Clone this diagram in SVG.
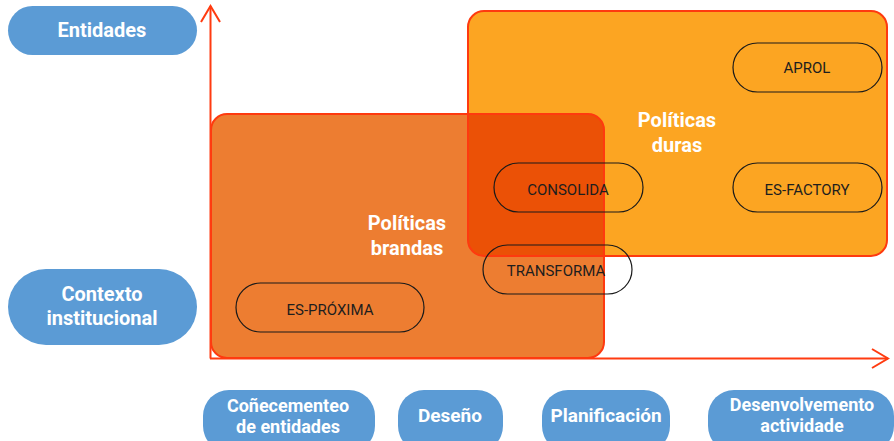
<svg xmlns="http://www.w3.org/2000/svg" width="894" height="441" viewBox="0 0 894 441">
  <style>
    .pill { fill: #5b9bd5; }
    .lbl { font-family: Roboto, "Liberation Sans", sans-serif; font-weight: bold; font-size: 19px; fill: #ffffff; text-anchor: middle; }
    .lbl2 { font-family: Roboto, "Liberation Sans", sans-serif; font-weight: bold; font-size: 18px; fill: #ffffff; text-anchor: middle; }
    .big { font-family: Roboto, "Liberation Sans", sans-serif; font-weight: bold; font-size: 20px; fill: #ffffff; text-anchor: middle; }
    .node { fill: none; stroke: #1a1a1a; stroke-width: 1.2; }
    .ntxt { font-family: Roboto, "Liberation Sans", sans-serif; font-size: 15px; fill: #1e1e1e; text-anchor: middle; }
    .edge { stroke: #fe3a0f; stroke-width: 2; fill: none; }
    .axis { stroke: #ff3b10; stroke-width: 2; fill: none; }
  </style>
  <defs>
    <clipPath id="clipDuras">
      <rect x="468" y="11" width="419" height="245" rx="16"/>
    </clipPath>
  </defs>
  <rect width="894" height="441" fill="#ffffff"/>

  <g id="duras">
    <rect x="468" y="11" width="419" height="245" rx="16" fill="#fca522"/>
  </g>
  <g id="brandas">
    <rect x="211" y="114" width="393" height="244" rx="16" fill="#ed7d31"/>
    <rect x="211" y="114" width="393" height="244" rx="16" fill="#eb5106" clip-path="url(#clipDuras)"/>
    <rect x="211" y="114" width="393" height="244" rx="16" class="edge"/>
    <rect x="468" y="11" width="419" height="245" rx="16" class="edge"/>
    <text class="big" x="407" y="230">Políticas</text>
    <text class="big" x="407" y="255">brandas</text>
  </g>
  <g id="duras-label">
    <text class="big" x="677" y="127">Políticas</text>
    <text class="big" x="677" y="152">duras</text>
  </g>

  <g id="connectors">
    <line class="axis" x1="210.5" y1="6" x2="210.5" y2="358.5"/>
    <polyline class="axis" points="201,22 210.5,6 220,22"/>
    <line class="axis" x1="210" y1="358.5" x2="888" y2="358.5"/>
    <polyline class="axis" points="872,349 888,358.5 872,368"/>
  </g>

  <g id="aprol">
    <rect class="node" x="733" y="43" width="149" height="49" rx="24.5"/>
    <text class="ntxt" x="807" y="73">APROL</text>
  </g>
  <g id="consolida">
    <rect class="node" x="494" y="163" width="149" height="49" rx="24.5"/>
    <text class="ntxt" x="568" y="195">CONSOLIDA</text>
  </g>
  <g id="es-factory">
    <rect class="node" x="733" y="163" width="149" height="49" rx="24.5"/>
    <text class="ntxt" x="807" y="195">ES-FACTORY</text>
  </g>
  <g id="transforma">
    <rect class="node" x="483" y="245" width="149" height="49" rx="24.5"/>
    <text class="ntxt" x="556" y="276">TRANSFORMA</text>
  </g>
  <g id="es-proxima">
    <rect class="node" x="236" y="283" width="188" height="49" rx="24.5"/>
    <text class="ntxt" x="330" y="315">ES-PRÓXIMA</text>
  </g>

  <g id="entidades">
    <rect class="pill" x="8" y="6" width="189" height="49" rx="24.5"/>
    <text class="big" x="102" y="37">Entidades</text>
  </g>
  <g id="contexto">
    <rect class="pill" x="8" y="269" width="189" height="76" rx="38"/>
    <text class="big" x="102" y="301">Contexto</text>
    <text class="big" x="102" y="325">institucional</text>
  </g>

  <g id="conecemento">
    <rect class="pill" x="203" y="390" width="172" height="62" rx="26"/>
    <text class="lbl2" x="288" y="412">Coñecementeo</text>
    <text class="lbl2" x="288" y="433">de entidades</text>
  </g>
  <g id="deseno">
    <rect class="pill" x="398" y="390" width="105" height="62" rx="26"/>
    <text class="lbl" x="450" y="422">Deseño</text>
  </g>
  <g id="planificacion">
    <rect class="pill" x="542" y="390" width="128" height="62" rx="26"/>
    <text class="lbl" x="606" y="422">Planificación</text>
  </g>
  <g id="desenvolvemento">
    <rect class="pill" x="708" y="390" width="186" height="62" rx="26"/>
    <text class="lbl2" x="802" y="411">Desenvolvemento</text>
    <text class="lbl2" x="802" y="432">actividade</text>
  </g>
</svg>
